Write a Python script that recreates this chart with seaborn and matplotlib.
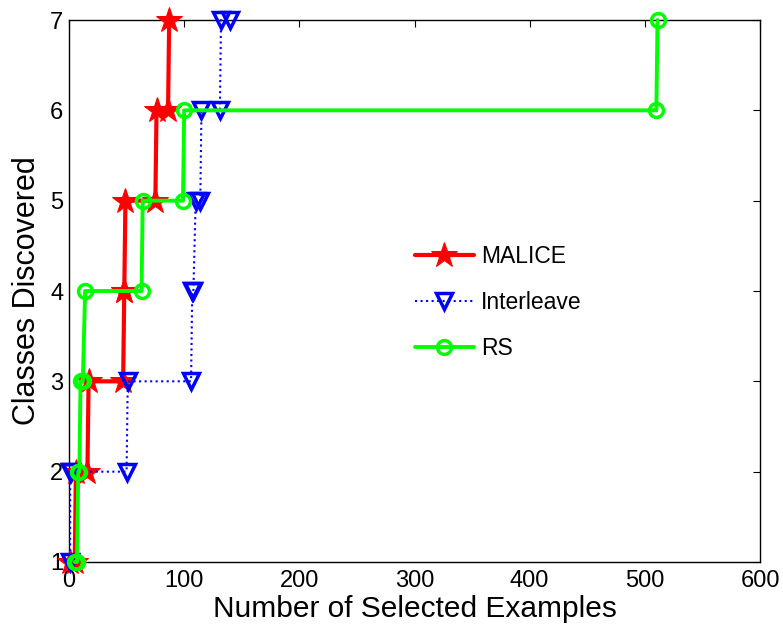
import matplotlib
matplotlib.use("Agg")
import matplotlib.pyplot as plt
import seaborn as sns
import pandas as pd

# Data
malice_x = [1, 5, 6, 16, 17, 47, 48, 48, 49, 75, 76, 86, 87]
malice_y = [1, 1, 2, 2, 3, 3, 4, 4, 5, 5, 6, 6, 7]

inter_x = [1, 1, 2, 50, 51, 106, 107, 108, 110, 114, 115, 131, 132, 140]
inter_y = [1, 2, 2, 2, 3, 3, 4, 4, 5, 5, 6, 6, 7, 7]

rs_x = [5, 7, 8, 9, 10, 12, 14, 63, 64, 99, 100, 510, 511]
rs_y = [1, 1, 2, 2, 3, 3, 4, 4, 5, 5, 6, 6, 7]

x_ticks = [0, 100, 200, 300, 400, 500, 600]
y_ticks = [1, 2, 3, 4, 5, 6, 7]

sns.set_style("white")
plt.rcParams["font.family"] = ["Liberation Sans", "DejaVu Sans"]
plt.rcParams["text.color"] = "black"
plt.rcParams["axes.labelcolor"] = "black"
plt.rcParams["xtick.color"] = "black"
plt.rcParams["ytick.color"] = "black"

fig = plt.figure(figsize=(7.83, 6.29), dpi=100)
ax = fig.add_axes([69 / 783, 1 - 562 / 629, (760 - 69) / 783, (562 - 20) / 629])

df_m = pd.DataFrame({"x": malice_x, "y": malice_y})
df_i = pd.DataFrame({"x": inter_x, "y": inter_y})
df_r = pd.DataFrame({"x": rs_x, "y": rs_y})

sns.lineplot(data=df_m, x="x", y="y", sort=False, estimator=None, ax=ax,
             color=(1, 0, 0), linewidth=3.0, marker="*", markersize=19,
             markeredgecolor=(1, 0, 0), markerfacecolor=(1, 0, 0),
             label="MALICE", clip_on=False, zorder=3)
sns.lineplot(data=df_i, x="x", y="y", sort=False, estimator=None, ax=ax,
             color=(0, 0, 1), linewidth=1.5, linestyle=":", marker="v",
             markersize=11, markeredgewidth=2.5, markeredgecolor=(0, 0, 1),
             markerfacecolor="none", label="Interleave", clip_on=False, zorder=4)
sns.lineplot(data=df_r, x="x", y="y", sort=False, estimator=None, ax=ax,
             color=(0, 1, 0), linewidth=2.8, marker="o", markersize=10,
             markeredgewidth=2.5, markeredgecolor=(0, 1, 0),
             markerfacecolor="none", label="RS", clip_on=False, zorder=5)

ax.set_xlim(0, 600)
ax.set_ylim(1, 7)
ax.set_xticks(x_ticks)
ax.set_yticks(y_ticks)
ax.tick_params(direction="in", top=True, right=True, length=5, width=0.8,
               labelsize=17, pad=4)
ax.tick_params(axis="x", pad=6)
for s in ax.spines.values():
    s.set_color("black")
    s.set_linewidth(1.0)

ax.set_xlabel("Number of Selected Examples", fontsize=21.5, labelpad=2)
ax.set_ylabel("Classes Discovered", fontsize=22, labelpad=6)

leg = ax.legend(loc="upper left", bbox_to_anchor=(0.5, 0.585), frameon=False,
                fontsize=16.5, labelspacing=1.0, handlelength=2.6,
                handletextpad=0.3, borderaxespad=0, borderpad=0)

fig.savefig("out.png", dpi=100)
